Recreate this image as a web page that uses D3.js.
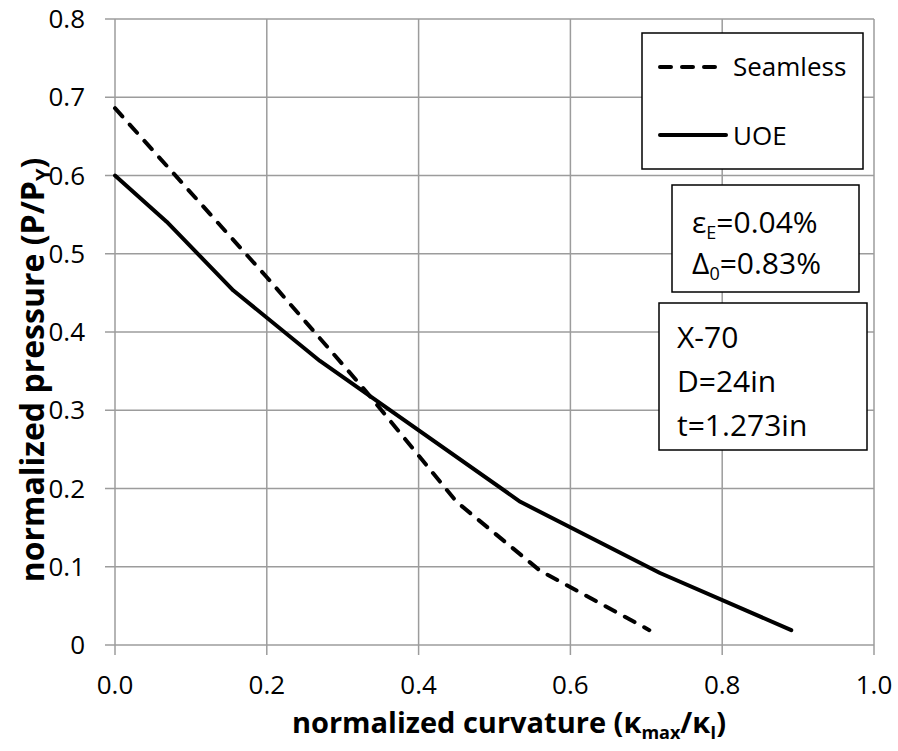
<!DOCTYPE html>
<html>
<head>
<meta charset="utf-8">
<script src="https://cdn.jsdelivr.net/npm/d3@7/dist/d3.min.js"></script>
<style>
  body { margin: 0; background: #fff; }
  svg { display: block; font-family: "Open Sans", sans-serif; }
</style>
</head>
<body>
<svg id="chart" width="898" height="751"></svg>
<script>
// curve data
const seamlessK = [0, 0.2, 0.33, 0.45, 0.56, 0.704];
const seamlessP = [0.686, 0.470, 0.325, 0.183, 0.095, 0.019];
const uoeK = [0, 0.068, 0.156, 0.27, 0.534, 0.718, 0.891];
const uoeP = [0.600, 0.541, 0.453, 0.363, 0.183, 0.092, 0.019];

const xTicks = [0, 0.2, 0.4, 0.6, 0.8, 1.0];
const yTicks = [0, 0.1, 0.2, 0.3, 0.4, 0.5, 0.6, 0.7, 0.8];

const seriesNames = ["Seamless", "UOE"];
const paramLines = ["X-70", "D=24in", "t=1.273in"];

const svg = d3.select("#chart");
const margin = {top: 19, right: 24, bottom: 106, left: 115};
const width = 898 - margin.left - margin.right;
const height = 751 - margin.top - margin.bottom;
const gridColor = "#9c9c9c";

const x = d3.scaleLinear().domain([0, 1]).range([0, width]);
const y = d3.scaleLinear().domain([0, 0.8]).range([height, 0]);

const g = svg.append("g").attr("transform", `translate(${margin.left},${margin.top})`);

// grid
g.append("g").selectAll("line.h").data(yTicks).enter().append("line")
  .attr("x1", -10).attr("x2", width)
  .attr("y1", d => y(d)).attr("y2", d => y(d))
  .attr("stroke", gridColor).attr("stroke-width", 1.5);
g.append("g").selectAll("line.v").data(xTicks).enter().append("line")
  .attr("x1", d => x(d)).attr("x2", d => x(d))
  .attr("y1", 0).attr("y2", height + 10)
  .attr("stroke", gridColor).attr("stroke-width", 1.5);

// tick labels
g.append("g").selectAll("text").data(xTicks).enter().append("text")
  .attr("x", d => x(d)).attr("y", height + 49)
  .attr("text-anchor", "middle")
  .attr("font-size", 26)
  .text(d => d3.format(".1f")(d));
g.append("g").selectAll("text").data(yTicks).enter().append("text")
  .attr("x", -30).attr("y", d => y(d) + 9)
  .attr("text-anchor", "end")
  .attr("font-size", 26)
  .text(d => d === 0 ? "0" : d3.format(".1f")(d));

// axis titles
const xt = svg.append("text")
  .attr("x", 509).attr("y", 733)
  .attr("text-anchor", "middle")
  .attr("font-size", 29).attr("font-weight", "bold");
xt.append("tspan").text("normalized curvature  (κ");
xt.append("tspan").attr("font-size", 18).attr("dy", 6).text("max");
xt.append("tspan").attr("dy", -6).text("/κ");
xt.append("tspan").attr("font-size", 18).attr("dy", 6).text("I");
xt.append("tspan").attr("dy", -6).text(")");

const yt = svg.append("text")
  .attr("transform", "translate(44,370) rotate(-90)")
  .attr("text-anchor", "middle")
  .attr("font-size", 32).attr("font-weight", "bold");
yt.append("tspan").text("normalized pressure (P/P");
yt.append("tspan").attr("font-size", 20).attr("dy", 6).text("Y");
yt.append("tspan").attr("dy", -6).text(")");

// curves
const line = d3.line().x(d => x(d[0])).y(d => y(d[1]));
const seamless = seamlessK.map((k, i) => [k, seamlessP[i]]);
const uoe = uoeK.map((k, i) => [k, uoeP[i]]);

g.append("path").datum(seamless)
  .attr("d", line).attr("fill", "none")
  .attr("stroke", "#000").attr("stroke-width", 4)
  .attr("stroke-dasharray", "11,11").attr("stroke-linecap", "round");
g.append("path").datum(uoe)
  .attr("d", line).attr("fill", "none")
  .attr("stroke", "#000").attr("stroke-width", 4)
  .attr("stroke-linejoin", "round").attr("stroke-linecap", "round");

// legend box
const leg = svg.append("g");
leg.append("rect").attr("x", 642).attr("y", 33).attr("width", 221).attr("height", 136)
  .attr("fill", "#fff").attr("stroke", "#000").attr("stroke-width", 1.5);
leg.append("line").attr("x1", 660).attr("x2", 716).attr("y1", 67).attr("y2", 67)
  .attr("stroke", "#000").attr("stroke-width", 4)
  .attr("stroke-dasharray", "11,11").attr("stroke-linecap", "round");
leg.append("line").attr("x1", 660).attr("x2", 726).attr("y1", 135).attr("y2", 135)
  .attr("stroke", "#000").attr("stroke-width", 4).attr("stroke-linecap", "round");
leg.selectAll("text").data(seriesNames).enter().append("text")
  .attr("x", 733).attr("y", (d, i) => [76, 145][i])
  .attr("font-size", 26)
  .text(d => d);

// material box
const box1 = svg.append("g");
box1.append("rect").attr("x", 672).attr("y", 185).attr("width", 187).attr("height", 107)
  .attr("fill", "#fff").attr("stroke", "#000").attr("stroke-width", 1.5);
const e1 = box1.append("text").attr("x", 692).attr("y", 233).attr("font-size", 30);
e1.append("tspan").text("ε");
e1.append("tspan").attr("font-size", 18).attr("dy", 6).text("E");
e1.append("tspan").attr("dy", -6).text("=0.04%");
const e2 = box1.append("text").attr("x", 692).attr("y", 274).attr("font-size", 30);
e2.append("tspan").text("Δ");
e2.append("tspan").attr("font-size", 18).attr("dy", 6).text("0");
e2.append("tspan").attr("dy", -6).text("=0.83%");

const box2 = svg.append("g");
box2.append("rect").attr("x", 659).attr("y", 303).attr("width", 208).attr("height", 147)
  .attr("fill", "#fff").attr("stroke", "#000").attr("stroke-width", 1.5);
box2.selectAll("text").data(paramLines).enter().append("text")
  .attr("x", 677).attr("y", (d, i) => 348 + i * 44)
  .attr("font-size", 30)
  .text(d => d);
</script>
</body>
</html>
